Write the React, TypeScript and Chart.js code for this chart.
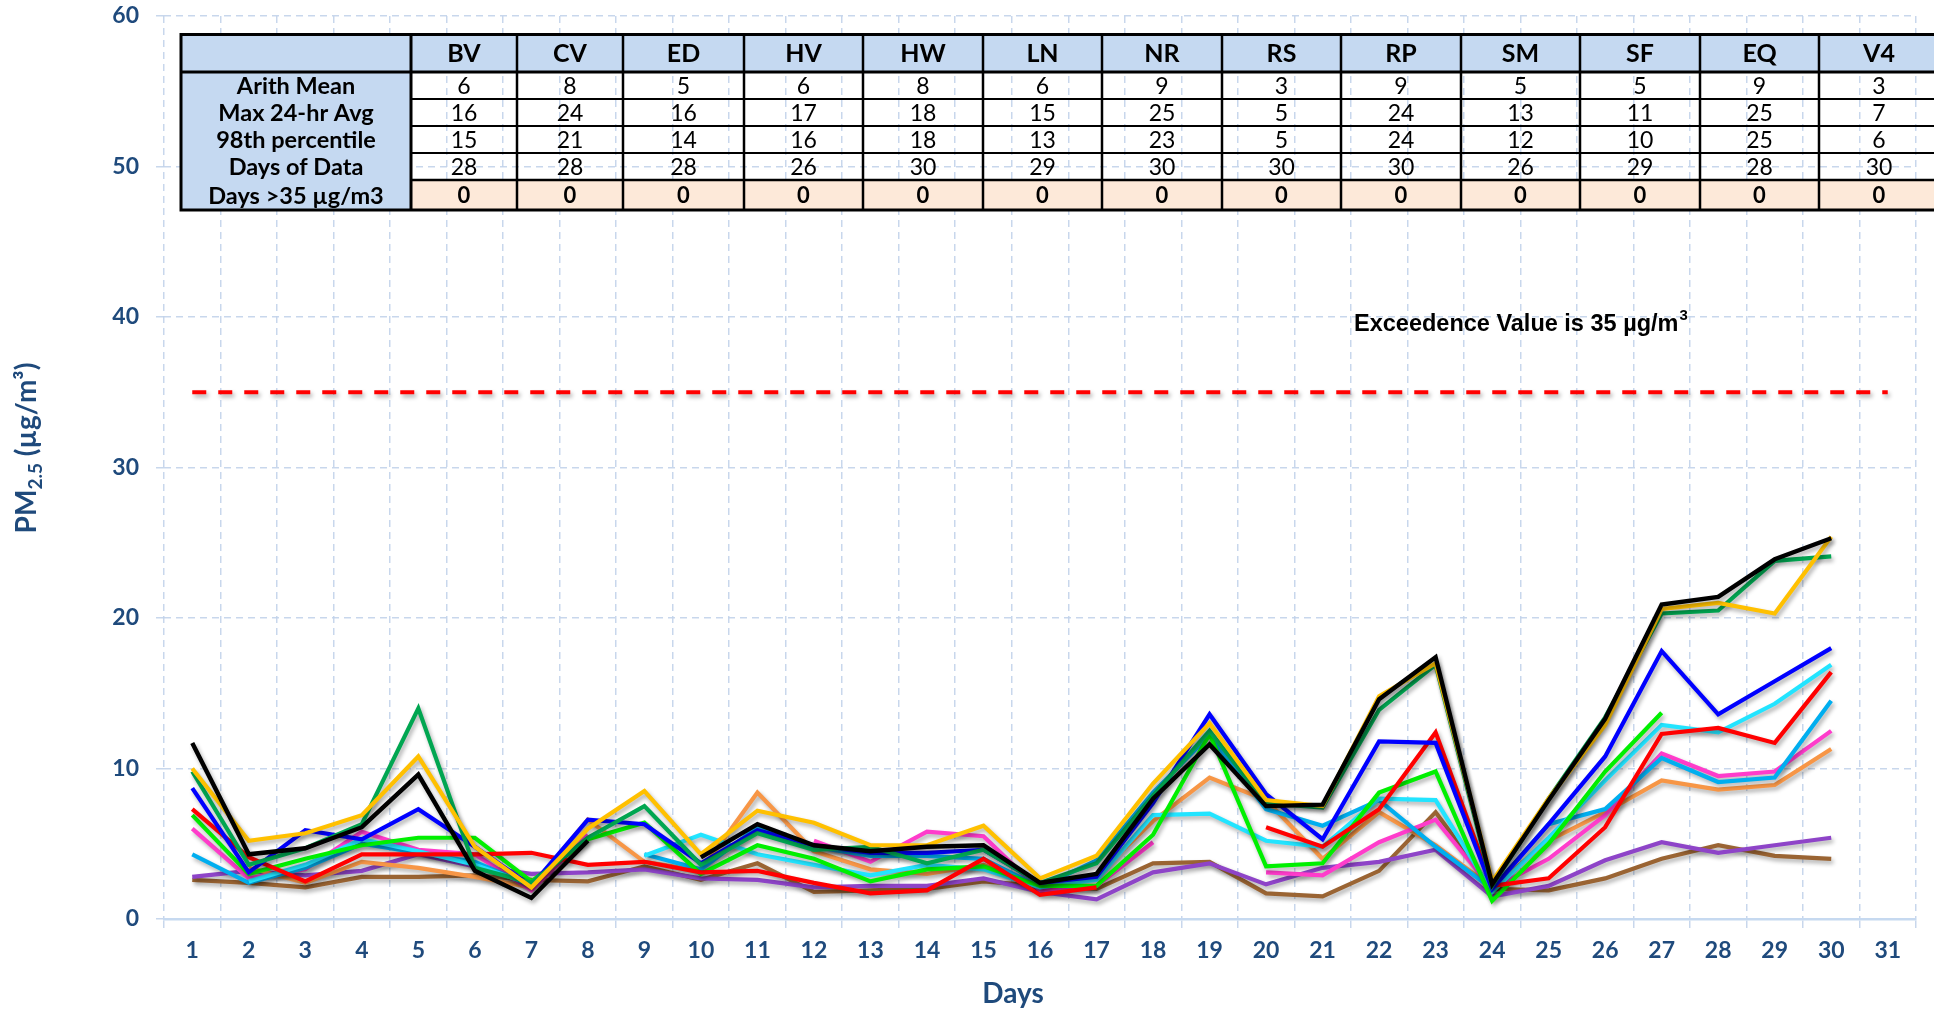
import { useEffect, useRef } from 'react';
import { Chart, registerables } from 'chart.js';

Chart.register(...registerables);

// ---------- data ----------
const days = ['1','2','3','4','5','6','7','8','9','10','11','12','13','14','15','16','17','18','19','20','21','22','23','24','25','26','27','28','29','30','31'];
const yTicks = [0, 10, 20, 30, 40, 50, 60];

const seriesBlack = [11.7, 4.3, 4.7, 6.1, 9.6, 3.2, 1.4, 5.2, null, 4.1, 6.3, 4.9, 4.5, 4.8, 4.9, 2.4, 3.0, 8.0, 11.6, 7.5, 7.6, 14.6, 17.4, 2.3, 7.9, 13.3, 20.9, 21.4, 23.9, 25.3];
const seriesGold = [10.0, 5.2, 5.7, 6.9, 10.8, 4.8, 2.1, 6.0, 8.5, 4.3, 7.2, 6.4, 4.9, 4.9, 6.2, 2.7, 4.2, 9.0, 13.0, 7.9, 7.5, 14.8, 17.0, 2.5, 8.0, 12.9, 20.6, 21.0, 20.3, 25.4];
const seriesDarkGreen = [9.8, 3.6, 4.7, 6.3, 14.0, 3.4, 2.4, 5.4, 7.5, 3.6, 5.7, 4.6, 4.8, 3.7, 4.6, 2.4, 3.7, 8.2, 12.5, 7.7, 7.4, 13.9, 16.9, 2.2, 8.0, 13.4, 20.3, 20.5, 23.8, 24.1];
const seriesBlue = [8.7, 3.1, 5.9, 5.3, 7.3, 4.8, 2.2, 6.6, 6.3, 3.7, 5.9, 4.9, 4.4, 4.4, 4.6, 2.4, 2.8, 7.7, 13.6, 8.3, 5.3, 11.8, 11.7, 2.0, 6.3, 10.8, 17.8, 13.6, 15.8, 18.0];
const seriesRed = [7.3, 4.1, 2.5, 4.3, 4.3, 4.3, 4.4, 3.6, 3.8, 3.1, 3.2, 2.4, 1.7, 1.9, 4.0, 1.6, 2.1, null, null, 6.1, 4.8, 7.3, 12.4, 2.2, 2.7, 6.1, 12.3, 12.7, 11.7, 16.4];
const seriesBrightGreen = [6.9, 3.0, 4.0, 4.9, 5.4, 5.4, 2.5, 5.3, 6.4, 3.0, 4.9, 4.0, 2.5, 3.3, 3.5, 2.2, 2.2, 5.6, 12.3, 3.5, 3.7, 8.4, 9.8, 1.2, 5.0, 9.8, 13.7, null, null, null];
const seriesCyan = [null, 2.5, 3.6, 5.3, 4.5, 3.6, 2.3, null, 4.2, 5.6, 4.3, 3.6, 2.9, 3.6, 3.3, 2.1, 2.6, 6.9, 7.0, 5.2, 4.8, 8.0, 7.9, 1.8, 5.4, 9.2, 12.9, 12.4, 14.3, 16.9];
const seriesLightBlue = [4.3, 2.4, 3.4, 5.0, 4.4, 3.8, 2.2, null, 4.3, 3.3, 6.1, 4.8, 4.2, 4.2, 4.0, 2.1, 3.9, 8.4, 12.2, 7.3, 6.2, 7.9, 4.8, 2.0, 6.3, 7.3, 10.7, 9.1, 9.4, 14.5];
const seriesPink = [6.0, 2.7, 3.3, 5.8, 4.6, 4.3, 1.9, 5.6, null, null, null, 5.2, 3.8, 5.8, 5.5, 1.9, 2.2, 5.1, null, 3.1, 2.9, 5.1, 6.6, 2.0, 4.0, 6.9, 11.0, 9.5, 9.8, 12.5];
const seriesOrange = [null, 3.4, 2.4, 3.8, 3.4, 2.8, 2.1, 6.6, 3.8, 3.2, 8.4, 4.5, 3.3, 3.0, 3.6, 2.2, 2.9, 6.5, 9.4, 7.9, 4.0, 7.1, 4.9, 2.1, 5.2, 7.1, 9.2, 8.6, 8.9, 11.3];
const seriesPurple = [2.8, 3.2, 2.9, 3.2, 4.3, 3.5, 3.0, 3.1, 3.3, 2.7, 2.6, 2.1, 2.2, 2.2, 2.7, 1.8, 1.3, 3.1, 3.7, 2.3, 3.4, 3.8, 4.6, 1.5, 2.2, 3.9, 5.1, 4.4, 4.9, 5.4];
const seriesBrown = [2.6, 2.4, 2.1, 2.8, 2.8, 2.9, 2.6, 2.5, 3.5, 2.6, 3.7, 1.8, 1.9, 2.0, 2.5, 2.2, 2.0, 3.7, 3.8, 1.7, 1.5, 3.2, 7.1, 2.0, 1.9, 2.7, 4.0, 4.9, 4.2, 4.0];

const exceedenceValue = 35;

// table
const stations = ['BV', 'CV', 'ED', 'HV', 'HW', 'LN', 'NR', 'RS', 'RP', 'SM', 'SF', 'EQ', 'V4'];
const rowLabels = ['Arith Mean', 'Max 24-hr Avg', '98th percentile', 'Days of Data', 'Days >35 µg/m3'];
const arithMean = [6, 8, 5, 6, 8, 6, 9, 3, 9, 5, 5, 9, 3];
const max24hr = [16, 24, 16, 17, 18, 15, 25, 5, 24, 13, 11, 25, 7];
const pct98 = [15, 21, 14, 16, 18, 13, 23, 5, 24, 12, 10, 25, 6];
const daysOfData = [28, 28, 28, 26, 30, 29, 30, 30, 30, 26, 29, 28, 30];
const daysOver35 = [0, 0, 0, 0, 0, 0, 0, 0, 0, 0, 0, 0, 0];

const TICK_COLOR = '#1F4A7C';
const GRID_COLOR = 'rgba(194,211,234,0.9)';

// ---------- layout (pixels) ----------
const COL_X = [181, 411, 517, 623, 744, 863, 983, 1102, 1222, 1341, 1461, 1580, 1700, 1819, 1939];
const ROW_Y = [34.5, 72, 99, 126, 153, 180, 210];

function drawTable(ctx: CanvasRenderingContext2D) {
  const rows = [arithMean, max24hr, pct98, daysOfData, daysOver35];
  const left = COL_X[0];
  const right = COL_X[COL_X.length - 1];
  const top = ROW_Y[0];
  const bottom = ROW_Y[ROW_Y.length - 1];
  ctx.save();
  ctx.fillStyle = '#C5D9F1';
  ctx.fillRect(left, top, right - left, ROW_Y[1] - top);
  ctx.fillRect(left, ROW_Y[1], COL_X[1] - left, bottom - ROW_Y[1]);
  ctx.fillStyle = '#FDE9D9';
  ctx.fillRect(COL_X[1], ROW_Y[5], right - COL_X[1], bottom - ROW_Y[5]);

  ctx.strokeStyle = '#000';
  const line = (x1: number, y1: number, x2: number, y2: number, w: number) => {
    ctx.lineWidth = w;
    ctx.beginPath();
    ctx.moveTo(x1, y1);
    ctx.lineTo(x2, y2);
    ctx.stroke();
  };
  for (let r = 2; r <= 5; r++) line(COL_X[1], ROW_Y[r], right, ROW_Y[r], r === 5 ? 2.6 : 2);
  line(left, ROW_Y[1], right, ROW_Y[1], 3);
  for (let c = 1; c < COL_X.length; c++) line(COL_X[c], top, COL_X[c], bottom, c === 1 ? 3 : 2.5);
  ctx.lineWidth = 3;
  ctx.strokeRect(left, top, right - left, bottom - top);

  ctx.fillStyle = '#000';
  ctx.textAlign = 'center';
  ctx.textBaseline = 'middle';
  ctx.font = 'bold 25px Lato';
  stations.forEach((s, i) => {
    ctx.fillText(s, (COL_X[i + 1] + COL_X[i + 2]) / 2, (ROW_Y[0] + ROW_Y[1]) / 2 + 1);
  });
  rowLabels.forEach((lab, r) => {
    ctx.font = 'bold 23.5px Lato';
    const cy = (ROW_Y[r + 1] + ROW_Y[r + 2]) / 2 + 1;
    ctx.fillText(lab, (COL_X[0] + COL_X[1]) / 2, cy);
    ctx.font = r === 4 ? 'bold 22px Lato' : '23px Lato';
    rows[r].forEach((v, i) => {
      ctx.fillText(String(v), (COL_X[i + 1] + COL_X[i + 2]) / 2, cy);
    });
  });
  ctx.restore();
}

function drawTitles(ctx: CanvasRenderingContext2D) {
  ctx.save();
  // y title with subscript
  ctx.fillStyle = TICK_COLOR;
  ctx.textBaseline = 'alphabetic';
  const big = 'bold 28px Lato';
  const small = 'bold 19px Lato';
  ctx.font = big;
  const w1 = ctx.measureText('PM').width;
  const w3 = ctx.measureText(' (µg/m³)').width;
  ctx.font = small;
  const w2 = ctx.measureText('2.5').width;
  const total = w1 + w2 + w3;
  ctx.translate(36, 448);
  ctx.rotate(-Math.PI / 2);
  let x = -total / 2;
  ctx.textAlign = 'left';
  ctx.font = big;
  ctx.fillText('PM', x, 0);
  x += w1;
  ctx.font = small;
  ctx.fillText('2.5', x, 6);
  x += w2;
  ctx.font = big;
  ctx.fillText(' (µg/m³)', x, 0);
  ctx.restore();

  ctx.save();
  ctx.fillStyle = TICK_COLOR;
  ctx.font = 'bold 28px Lato';
  ctx.textAlign = 'center';
  ctx.textBaseline = 'middle';
  ctx.fillText('Days', 1013, 994);
  ctx.restore();

  // exceedence annotation
  ctx.save();
  ctx.fillStyle = '#000';
  ctx.textBaseline = 'alphabetic';
  ctx.textAlign = 'left';
  ctx.font = 'bold 23.5px "Liberation Sans", Arial, sans-serif';
  const t = 'Exceedence Value is 35 µg/m';
  ctx.fillText(t, 1354, 331);
  const tw = ctx.measureText(t).width;
  ctx.font = 'bold 15px "Liberation Sans", Arial, sans-serif';
  ctx.fillText('3', 1354 + tw + 1, 320);
  ctx.restore();
}

const decorPlugin = {
  id: 'decor',
  beforeDatasetsDraw(chart: any) {
    const ctx = chart.ctx;
    ctx.save();
    ctx.shadowColor = 'rgba(0,0,0,0.32)';
    ctx.shadowBlur = 4;
    ctx.shadowOffsetX = 2;
    ctx.shadowOffsetY = 3;
  },
  afterDatasetsDraw(chart: any) {
    chart.ctx.restore();
  },
  afterDraw(chart: any) {
    drawTable(chart.ctx);
    drawTitles(chart.ctx);
  },
};

export default function App() {
  const ref = useRef<HTMLCanvasElement | null>(null);
  useEffect(() => {
    if (!ref.current) return;
    const mk = (label: string, data: (number | null)[], color: string, width = 4.2) => ({
      label,
      data,
      borderColor: color,
      backgroundColor: color,
      borderWidth: width,
      pointRadius: 0,
      pointHoverRadius: 0,
      tension: 0,
      spanGaps: false,
      fill: false,
    });
    const chart = new Chart(ref.current, {
      type: 'line',
      data: {
        labels: days,
        datasets: [
          mk('EQ', seriesBlack, '#000000', 4.4),
          mk('NR', seriesGold, '#FFC000'),
          mk('CV', seriesDarkGreen, '#00A651'),
          mk('HW', seriesBlue, '#0000FF'),
          mk('BV', seriesRed, '#FF0000'),
          mk('ED', seriesBrightGreen, '#00F000'),
          mk('HV', seriesCyan, '#22E4FF'),
          mk('LN', seriesLightBlue, '#00AEEF'),
          mk('SM', seriesPink, '#FF3CCB'),
          mk('SF', seriesOrange, '#F79646'),
          mk('RS', seriesPurple, '#8E44C8'),
          mk('V4', seriesBrown, '#9A6433'),
          {
            label: 'Exceedence',
            data: days.map(() => exceedenceValue),
            borderColor: '#FF0000',
            borderWidth: 4,
            borderDash: [14, 12],
            pointRadius: 0,
            fill: false,
          },
        ],
      },
      options: {
        responsive: false,
        animation: false,
        devicePixelRatio: 1,
        layout: { padding: { top: 16, right: 18, left: 0, bottom: 0 } },
        plugins: { legend: { display: false }, tooltip: { enabled: false }, title: { display: false } },
        events: [],
        scales: {
          x: {
            type: 'category',
            offset: true,
            grid: { offset: true, color: GRID_COLOR, lineWidth: 1.5, tickLength: 9, tickColor: GRID_COLOR, drawTicks: true },
            border: { display: true, color: '#C6D9F0', width: 2.5, dash: [7, 5] },
            ticks: { color: TICK_COLOR, font: { family: 'Lato', weight: 'bold', size: 23 }, padding: 9, maxRotation: 0, autoSkip: false },
            afterFit: (s: any) => { s.height = 94; s.paddingLeft = 0; s.paddingRight = 0; },
          },
          y: {
            min: 0,
            max: 60,
            afterBuildTicks: (s: any) => { s.ticks = yTicks.map((v) => ({ value: v })); },
            grid: { color: GRID_COLOR, lineWidth: 1.5, tickLength: 8, tickColor: GRID_COLOR },
            border: { display: false, dash: [7, 5] },
            ticks: { color: TICK_COLOR, font: { family: 'Lato', weight: 'bold', size: 23 }, padding: 17 },
            afterFit: (s: any) => { s.width = 164; s.paddingTop = 0; s.paddingBottom = 0; },
          },
        },
      },
      plugins: [decorPlugin],
    });
    return () => chart.destroy();
  }, []);
  return (
    <div style={{ position: 'fixed', left: 0, top: 0, width: 1934, height: 1013, background: '#fff' }}>
      <canvas ref={ref} width={1934} height={1013} style={{ width: 1934, height: 1013 }} />
    </div>
  );
}
